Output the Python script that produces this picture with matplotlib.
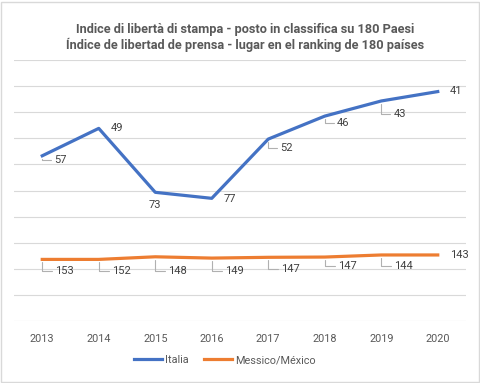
import matplotlib.pyplot as plt
from matplotlib.patches import Rectangle

# Dati (posizioni, scala 0-100 senza etichette)
anni = ["2013", "2014", "2015", "2016", "2017", "2018", "2019", "2020"]
italia_posto = [57, 49, 73, 77, 52, 46, 43, 41]
messico_posto = [153, 152, 148, 149, 147, 147, 144, 143]
italia_y = [63.3, 73.8, 49.3, 47.0, 69.7, 78.5, 84.3, 87.9]
messico_y = [23.6, 23.6, 24.6, 24.1, 24.4, 24.5, 25.3, 25.3]

# offset etichette (pixel) e presenza della linea guida
italia_off = [(12, -4), (12, 0), (0, -13), (12, -1), (12, -9), (12, -7), (12, -13), (12, 1)]
italia_guida = [True, False, False, False, True, True, True, False]
messico_off = [(13, -12), (13, -12), (13, -14), (13, -13), (13, -12), (13, -9), (13, -11), (12, 0)]
messico_guida = [True, True, True, True, True, True, True, False]

BLU = "#4472C4"
ARANCIO = "#ED7D31"
GRIGIO = "#595959"

plt.rcParams['font.family'] = ['Roboto', 'DejaVu Sans']

fig = plt.figure(figsize=(4.8, 3.83), dpi=100)
ax = fig.add_axes([14 / 480, 1 - 321 / 383, 452 / 480, 261 / 383])

x = list(range(len(anni)))
ax.plot(x, italia_y, color=BLU, lw=2.3, label="Italia", solid_joinstyle='round')
ax.plot(x, messico_y, color=ARANCIO, lw=2.3, label="Messico/México", solid_joinstyle='round')


def etichette(valori, posti, offset, guida):
    for i, (v, p) in enumerate(zip(valori, posti)):
        dx, dy = offset[i]
        kw = {}
        if guida[i]:
            kw['arrowprops'] = dict(arrowstyle='-', color='#b0b0b0', lw=0.8,
                                    connectionstyle='angle,angleA=0,angleB=90,rad=0',
                                    relpos=(0, 0.5), shrinkA=0, shrinkB=2)
        ax.annotate(str(p), xy=(i, v), xytext=(dx, dy), textcoords='offset pixels',
                    ha='left' if dx else 'center', va='center',
                    fontsize=8, color='#404040', **kw)


etichette(italia_y, italia_posto, italia_off, italia_guida)
etichette(messico_y, messico_posto, messico_off, messico_guida)

ax.set_xlim(-0.5, 7.5)
ax.set_ylim(0, 100)
ax.set_yticks(range(0, 101, 10))
ax.set_yticklabels([])
ax.set_xticks(x)
ax.set_xticklabels(anni)
ax.tick_params(axis='both', length=0, colors=GRIGIO, labelsize=7.8)
ax.tick_params(axis='x', pad=9)
ax.grid(axis='y', color='#d9d9d9', lw=0.8)
ax.set_axisbelow(True)
for s in ax.spines.values():
    s.set_visible(False)

fig.text(0.51, 1 - 30 / 383, "Indice di libertà di stampa - posto in classifica su 180 Paesi",
         ha='center', va='center', fontsize=9.2, fontweight='bold', color=GRIGIO)
fig.text(0.51, 1 - 45 / 383, "Índice de libertad de prensa - lugar en el ranking de 180 países",
         ha='center', va='center', fontsize=9.2, fontweight='bold', color=GRIGIO)

fig.legend(loc='center', bbox_to_anchor=(225 / 480, 1 - 360 / 383), ncol=2, frameon=False,
           fontsize=7.8, labelcolor=GRIGIO, handlelength=2.6, handletextpad=0.3,
           columnspacing=1.4)

fig.patches.append(Rectangle((0.002, 0.003), 0.995, 0.993, transform=fig.transFigure,
                             fill=False, edgecolor='#d9d9d9', lw=1))

fig.savefig("out.png", dpi=100)
